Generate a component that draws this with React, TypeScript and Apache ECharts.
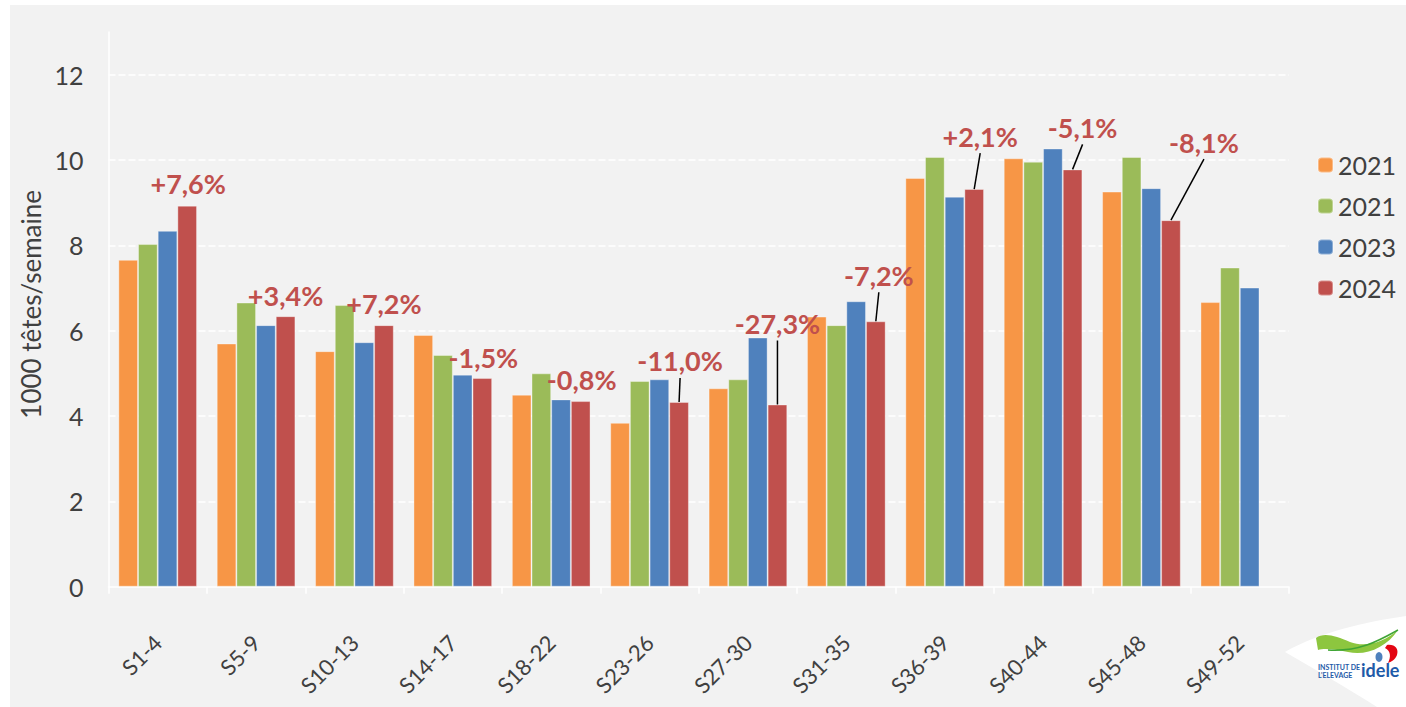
import React, { useEffect, useRef } from 'react';
import * as echarts from 'echarts';

// semaines
const categories = ['S1-4', 'S5-9', 'S10-13', 'S14-17', 'S18-22', 'S23-26', 'S27-30', 'S31-35', 'S36-39', 'S40-44', 'S45-48', 'S49-52'];

// 1000 têtes / semaine
const orange2021 = [7.66, 5.7, 5.52, 5.9, 4.5, 3.84, 4.65, 6.33, 9.58, 10.04, 9.26, 6.67];
const green2021 = [8.03, 6.66, 6.6, 5.43, 5.0, 4.82, 4.86, 6.13, 10.07, 9.96, 10.07, 7.48];
const blue2023 = [8.34, 6.13, 5.73, 4.97, 4.39, 4.86, 5.84, 6.69, 9.14, 10.27, 9.34, 7.01];
const red2024 = [8.93, 6.34, 6.13, 4.89, 4.35, 4.33, 4.27, 6.22, 9.32, 9.78, 8.59, null];

const legendLabels = ['2021', '2021', '2023', '2024'];
const pctLabels = ['+7,6%', '+3,4%', '+7,2%', '-1,5%', '-0,8%', '-11,0%', '-27,3%', '-7,2%', '+2,1%', '-5,1%', '-8,1%', ''];

// décalage des étiquettes (px) par rapport au haut de la barre 2024
const labelDx = [1, 0, 0, 1, 1, 1, 0, 3, 6, 10, 33, 0];
const labelDy = [-22, -21, -22, -21, -22, -41, -81, -46, -53, -42, -78, 0];
const hasLeader = [false, false, false, false, false, true, true, true, true, true, true, false];

const COLORS = ['#F79646', '#9BBB59', '#4F81BD', '#C0504D'];
const FONT = 'Lato, "Open Sans", sans-serif';

const bladePath = 'M0,36 C35,16 80,6 121,0 L121,91 L92,91 C62,72 28,52 0,36 Z';
const swooshPath = 'M0,10 C8,4 20,8 34,14 C50,20 68,14 82,2 C70,20 50,28 32,24 C18,21 8,20 2,22 Z';
const redPath = 'M2,0 C10,-1 14,4 12,10 C10,15 6,17 3,18 C6,12 6,6 0,3 Z';

echarts.graphic.registerShape('idBlade', echarts.graphic.extendPath(bladePath, {}));
echarts.graphic.registerShape('idSwoosh', echarts.graphic.extendPath(swooshPath, {}));
echarts.graphic.registerShape('idRed', echarts.graphic.extendPath(redPath, {}));

const App: React.FC = () => {
  const chartRef = useRef<HTMLDivElement>(null);

  useEffect(() => {
    if (!chartRef.current) return;
    const chart = echarts.init(chartRef.current, null, { renderer: 'svg' });

    const seriesNames = ['2021', '2021 ', '2023', '2024'];
    const seriesData = [orange2021, green2021, blue2023, red2024];

    const barSeries = seriesData.map((d, k) => ({
      name: seriesNames[k],
      type: 'bar',
      data: d,
      barGap: '0%',
      barCategoryGap: '20%',
      itemStyle: { color: COLORS[k], borderColor: 'rgba(255,255,255,0.35)', borderWidth: 1 },
    }));

    const annotData = categories
      .map((_, i) => [i, red2024[i], labelDx[i], labelDy[i], hasLeader[i] ? 1 : 0])
      .filter((d) => pctLabels[d[0] as number] !== '');

    const option: any = {
      animation: false,
      backgroundColor: '#f2f2f2',
      textStyle: { fontFamily: FONT },
      grid: { left: 108.5, right: 117, top: 32, bottom: 120.3 },
      legend: {
        orient: 'vertical',
        left: 1312,
        top: 147,
        itemWidth: 15,
        itemHeight: 15,
        itemGap: 15,
        data: seriesNames,
        formatter: (n: string) => legendLabels[seriesNames.indexOf(n)],
        textStyle: { fontSize: 25, color: '#404040', fontFamily: FONT, lineHeight: 26 },
      },
      xAxis: {
        type: 'category',
        data: categories,
        axisLine: { lineStyle: { color: '#ffffff', width: 1.5 } },
        axisTick: { show: true, length: 7, lineStyle: { color: '#ffffff', width: 1.5 } },
        axisLabel: { rotate: 45, margin: 52, fontSize: 22, color: '#404040', fontFamily: FONT, interval: 0 },
        splitLine: { show: false },
      },
      yAxis: {
        type: 'value',
        min: 0,
        max: 13,
        interval: 2,
        name: '1000 têtes/semaine',
        nameLocation: 'middle',
        nameGap: 60,
        nameTextStyle: { fontSize: 26, color: '#404040', fontFamily: FONT, padding: [0, 0, 0, 10] },
        axisLine: { show: true, lineStyle: { color: '#ffffff', width: 1.5 } },
        axisTick: { show: false },
        axisLabel: { showMaxLabel: false, fontSize: 25, color: '#404040', margin: 25, fontFamily: FONT },
        splitLine: {
          show: true,
          showMinLine: false,
          showMaxLine: false,
          lineStyle: { color: '#ffffff', type: [7, 3], width: 1.5 },
        },
      },
      series: [
        ...barSeries,
        {
          type: 'custom',
          silent: true,
          z: 10,
          data: annotData,
          renderItem: (params: any, api: any) => {
            const i = api.value(0);
            const v = api.value(1);
            const band = api.size([1, 0])[0];
            const pt = api.coord([i, v]);
            const barW = (band * 0.8) / 4;
            const x = pt[0] - band * 0.4 + barW * 3.5;
            const y = pt[1];
            const dx = api.value(2);
            const dy = api.value(3);
            const children: any[] = [];
            if (api.value(4)) {
              children.push({
                type: 'line',
                shape: { x1: x, y1: y, x2: x + dx, y2: y + dy + 17 },
                style: { stroke: '#000000', lineWidth: 1.5 },
              });
            }
            children.push({
              type: 'text',
              x: x + dx,
              y: y + dy,
              style: {
                text: pctLabels[i],
                fill: '#C0504D',
                fontSize: 27,
                fontWeight: 'bold',
                fontFamily: FONT,
                textAlign: 'center',
                textVerticalAlign: 'middle',
                align: 'center',
                verticalAlign: 'middle',
              },
            });
            return { type: 'group', children };
          },
        },
      ],
      graphic: [
        { type: 'rect', left: 0, top: 0, shape: { width: 1406, height: 5 }, style: { fill: '#ffffff' }, z: 100 },
        { type: 'rect', left: 0, top: 0, shape: { width: 10, height: 707 }, style: { fill: '#ffffff' }, z: 100 },
        {
          type: 'group',
          z: 100,
          children: [
            { type: 'idBlade', x: 1285, y: 616, style: { fill: '#ffffff' } },
            { type: 'idSwoosh', x: 1316, y: 628, style: { fill: '#8DC63F' } },
            {
              type: 'bezierCurve',
              shape: { x1: 1328, y1: 650, x2: 1398, y2: 630, cpx1: 1360, cpy1: 652, cpx2: 1380, cpy2: 640 },
              style: { stroke: '#3FA535', lineWidth: 1.5, fill: null },
            },
            { type: 'ellipse', shape: { cx: 1379, cy: 657, rx: 3.5, ry: 5 }, style: { fill: '#4F81BD' } },
            { type: 'idRed', x: 1385, y: 645, style: { fill: '#E30613' } },
            {
              type: 'text',
              x: 1318,
              y: 663,
              style: { text: 'INSTITUT DE', fill: '#1E5AA8', fontSize: 7, fontWeight: 'bold', fontFamily: FONT },
            },
            {
              type: 'text',
              x: 1318,
              y: 671,
              style: { text: "L'ELEVAGE", fill: '#1E5AA8', fontSize: 7, fontWeight: 'bold', fontFamily: FONT },
            },
            {
              type: 'text',
              x: 1361,
              y: 661,
              style: { text: 'idele', fill: '#1E5AA8', fontSize: 18, fontWeight: 'bold', fontFamily: FONT },
            },
          ],
        },
      ],
    };

    chart.setOption(option);

    return () => {
      chart.dispose();
    };
  }, []);

  return (
    <div
      ref={chartRef}
      style={{ position: 'fixed', left: 0, top: 0, width: '1406px', height: '707px' }}
    />
  );
};

export default App;
